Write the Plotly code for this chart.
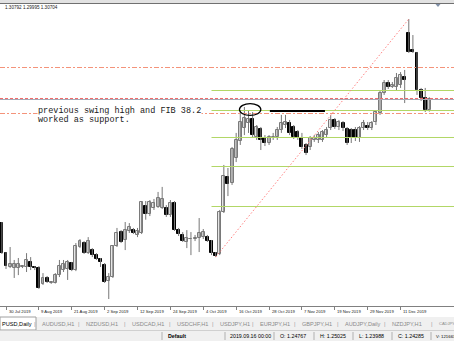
import plotly.graph_objects as go

# ---------------- data (GBPUSD daily) ----------------
tick_idx = [1, 9, 17, 25, 33, 41, 49, 57, 65, 73, 81, 89, 97]
tick_text = ["30 Jul 2019", "9 Aug 2019", "21 Aug 2019", "2 Sep 2019", "12 Sep 2019",
             "24 Sep 2019", "4 Oct 2019", "16 Oct 2019", "28 Oct 2019", "7 Nov 2019",
             "19 Nov 2019", "29 Nov 2019", "11 Dec 2019"]

opens = [1.2380, 1.2213, 1.2136, 1.2130, 1.2130, 1.2136, 1.2136, 1.2164, 1.2136, 1.2130,
         1.2042, 1.2075, 1.2047, 1.2047, 1.2091, 1.2119, 1.2125, 1.2158, 1.2119, 1.2247,
         1.2269, 1.2213, 1.2230, 1.2202, 1.2180, 1.2147, 1.2058, 1.2080, 1.2252, 1.2330,
         1.2286, 1.2336, 1.2341, 1.2314, 1.2325, 1.24767, 1.2430, 1.2464, 1.2469, 1.2464,
         1.2464, 1.2425, 1.2492, 1.2341, 1.2314, 1.2275, 1.2291, 1.2291, 1.2297, 1.2302,
         1.2302, 1.2280, 1.2213, 1.2208, 1.2441, 1.2636, 1.2603, 1.2742, 1.2836, 1.2908,
         1.2936, 1.2958, 1.2858, 1.2903, 1.2853, 1.2825, 1.2858, 1.2858, 1.2897, 1.2925,
         1.2936, 1.2914, 1.2886, 1.2853, 1.2814, 1.2803, 1.2842, 1.2842, 1.2842, 1.2869,
         1.2908, 1.2953, 1.2914, 1.2936, 1.2903, 1.2897, 1.2897, 1.2853, 1.2908, 1.2919,
         1.2908, 1.2942, 1.2992, 1.3103, 1.3158, 1.3136, 1.3136, 1.3147, 1.3192, 1.3436,
         1.3342, 1.3325, 1.3119, 1.3075, 1.3008]
highs = [1.2386, 1.2219, 1.2247, 1.2175, 1.2186, 1.2147, 1.2213, 1.2191, 1.2141, 1.2141,
         1.2102, 1.2086, 1.2058, 1.2102, 1.2175, 1.2175, 1.2175, 1.2164, 1.2269, 1.2291,
         1.2280, 1.2302, 1.2241, 1.2213, 1.2186, 1.2158, 1.2102, 1.2258, 1.2353, 1.2341,
         1.2386, 1.2380, 1.2353, 1.2353, 1.2502, 1.25025, 1.2508, 1.2514, 1.2553, 1.2581,
         1.2480, 1.2508, 1.2502, 1.2353, 1.2330, 1.2341, 1.2330, 1.2314, 1.2408, 1.2347,
         1.2314, 1.2286, 1.2219, 1.2453, 1.2703, 1.2686, 1.2803, 1.2881, 1.3008, 1.3025,
         1.3008, 1.2997, 1.2925, 1.2914, 1.2869, 1.2869, 1.2881, 1.2914, 1.2981, 1.2981,
         1.2953, 1.2925, 1.2897, 1.2881, 1.2825, 1.2864, 1.2869, 1.2886, 1.2897, 1.2914,
         1.2981, 1.2964, 1.2953, 1.2947, 1.2914, 1.2908, 1.2914, 1.2919, 1.2953, 1.2942,
         1.2947, 1.3008, 1.3119, 1.3175, 1.3175, 1.3164, 1.3214, 1.3219, 1.3231, 1.3514,
         1.3425, 1.3331, 1.3131, 1.3131, 1.30792]
lows = [1.2208, 1.2125, 1.2130, 1.2075, 1.2091, 1.2130, 1.2108, 1.2119, 1.2119, 1.2014,
        1.2036, 1.2047, 1.2042, 1.2044, 1.2080, 1.2108, 1.2064, 1.2113, 1.2113, 1.2241,
        1.2208, 1.2208, 1.2191, 1.2175, 1.2136, 1.2047, 1.1958, 1.2075, 1.2247, 1.2269,
        1.2230, 1.2325, 1.2319, 1.2302, 1.2319, 1.23988, 1.2419, 1.2453, 1.2464, 1.2458,
        1.2414, 1.2414, 1.2336, 1.2308, 1.2275, 1.2241, 1.2202, 1.2280, 1.2219, 1.2291,
        1.2275, 1.2202, 1.2191, 1.2202, 1.2436, 1.2530, 1.2592, 1.2719, 1.2814, 1.2869,
        1.2881, 1.2858, 1.2842, 1.2786, 1.2808, 1.2814, 1.2842, 1.2842, 1.2881, 1.2908,
        1.2869, 1.2847, 1.2842, 1.2792, 1.2758, 1.2786, 1.2831, 1.2825, 1.2831, 1.2853,
        1.2897, 1.2903, 1.2897, 1.2892, 1.2814, 1.2825, 1.2836, 1.2831, 1.2897, 1.2897,
        1.2897, 1.2925, 1.2981, 1.3092, 1.3125, 1.3131, 1.3119, 1.3131, 1.3047, 1.3325,
        1.3325, 1.3092, 1.3058, 1.2997, 1.29995]
closes = [1.2213, 1.2141, 1.2153, 1.2153, 1.2153, 1.2139, 1.2175, 1.2136, 1.2130, 1.2019,
          1.2075, 1.2053, 1.2050, 1.2091, 1.2141, 1.2153, 1.2164, 1.2119, 1.2252, 1.2280,
          1.2213, 1.2280, 1.2202, 1.2180, 1.2164, 1.2053, 1.2080, 1.2252, 1.2325, 1.2275,
          1.2341, 1.2358, 1.2325, 1.2336, 1.2497, 1.24285, 1.2497, 1.2492, 1.2519, 1.2514,
          1.2425, 1.2492, 1.2341, 1.2319, 1.2280, 1.2297, 1.2294, 1.2297, 1.2325, 1.2330,
          1.2280, 1.2213, 1.2197, 1.2441, 1.2642, 1.2597, 1.2792, 1.2842, 1.2942, 1.2964,
          1.2958, 1.2869, 1.2914, 1.2842, 1.2825, 1.2858, 1.2861, 1.2897, 1.2936, 1.2942,
          1.2881, 1.2858, 1.2853, 1.2803, 1.2769, 1.2853, 1.2853, 1.2869, 1.2886, 1.2897,
          1.2953, 1.2914, 1.2942, 1.2908, 1.2825, 1.2853, 1.2853, 1.2908, 1.2936, 1.2908,
          1.2936, 1.2997, 1.3103, 1.3158, 1.3136, 1.3147, 1.3186, 1.3203, 1.3175, 1.3331,
          1.3331, 1.3119, 1.3075, 1.3008, 1.30704]

# horizontal levels (price)
fib_levels = [1.31167, 1.30056, 1.28556, 1.26944, 1.24721]    # green
dashdot_levels = [1.32445, 1.29889]                           # salmon dash-dot
red_dash_level = 1.30723
grey_level = 1.30667
fib_start_bar = 51
trend_start = (52, 1.2191)
trend_end = (99, 1.3514)
swing_line = (65.2, 78.6, 1.30028)
ellipse_box = (57.8, 63.0, 1.2978, 1.3044)

tabs = ["PUSD,Daily", "AUDUSD,H1", "NZDUSD,H1", "USDCAD,H1", "USDCHF,H1", "USDJPY,H1",
        "EURJPY,H1", "GBPJPY,H1", "AUDJPY,Daily", "NZDJPY,H1", "CADJPY"]
status = ["Default", "2019.09.16 00:00", "O: 1.24767", "H: 1.25025", "L: 1.23988",
          "C: 1.24285", "V: 121663"]

# ---------------- figure ----------------
W, H = 454, 341
T, B = 4, 35
PLOT_H = H - T - B


def PX(x):
    return x / W


def PY(y):
    return (H - B - y) / PLOT_H


n = len(opens)
idx = list(range(n))

wx, wy = [], []
for i in idx:
    wx += [i, i, None]
    wy += [lows[i], highs[i], None]

up = [c >= o for o, c in zip(opens, closes)]
base = [min(o, c) for o, c in zip(opens, closes)]
size = [max(abs(c - o), 0.00012) for o, c in zip(opens, closes)]

fig = go.Figure()
fig.add_trace(go.Scatter(x=wx, y=wy, mode="lines", line=dict(color="#777777", width=1),
                         hoverinfo="skip", showlegend=False))
fig.add_trace(go.Bar(x=idx, y=size, base=base, width=0.72,
                     marker=dict(color=["#e6e6e6" if u else "#000000" for u in up],
                                 line=dict(color=["#7a7a7a" if u else "#000000" for u in up], width=1)),
                     hoverinfo="skip", showlegend=False))

shapes = []
GREEN = "#b2d766"
for lv in fib_levels:
    shapes.append(dict(type="line", xref="x", yref="y", x0=fib_start_bar, x1=130, y0=lv, y1=lv,
                       line=dict(color=GREEN, width=1)))
for lv in dashdot_levels:
    shapes.append(dict(type="line", xref="paper", yref="y", x0=0, x1=1, y0=lv, y1=lv,
                       line=dict(color="#f4937a", width=1, dash="5px,2px,2px,2px")))
shapes.append(dict(type="line", xref="paper", yref="y", x0=0, x1=1, y0=grey_level, y1=grey_level,
                   line=dict(color="#a6a9b6", width=1)))
shapes.append(dict(type="line", xref="paper", yref="y", x0=0, x1=1, y0=red_dash_level, y1=red_dash_level,
                   line=dict(color="#f06a6a", width=1, dash="3px,2px")))
shapes.append(dict(type="line", xref="x", yref="y", x0=trend_start[0], y0=trend_start[1],
                   x1=trend_end[0], y1=trend_end[1],
                   line=dict(color="#ff8080", width=1, dash="1.5px,2px")))
shapes.append(dict(type="line", xref="x", yref="y", x0=swing_line[0], x1=swing_line[1],
                   y0=swing_line[2], y1=swing_line[2], line=dict(color="#000000", width=2)))
shapes.append(dict(type="circle", xref="x", yref="y", x0=ellipse_box[0], x1=ellipse_box[1],
                   y0=ellipse_box[2], y1=ellipse_box[3], line=dict(color="#000000", width=1.3)))

# ---- window chrome ----
shapes.append(dict(type="rect", xref="paper", yref="paper", x0=0, x1=1, y0=PY(0), y1=PY(3.2),
                   fillcolor="#e2e2e2", line=dict(width=0), layer="above"))
shapes.append(dict(type="line", xref="paper", yref="paper", x0=0, x1=1, y0=PY(3.5), y1=PY(3.5),
                   line=dict(color="#707070", width=1)))
shapes.append(dict(type="path", xref="paper", yref="paper",
                   path=f"M {PX(435.5)} {PY(4)} L {PX(440.5)} {PY(4)} L {PX(438)} {PY(7)} Z",
                   fillcolor="#8090a8", line=dict(width=0)))
# tab row
shapes.append(dict(type="rect", xref="paper", yref="paper", x0=0, x1=1, y0=PY(330), y1=PY(317),
                   fillcolor="#f0f0f0", line=dict(width=0)))
shapes.append(dict(type="rect", xref="paper", yref="paper", x0=0, x1=PX(36), y0=PY(330), y1=PY(317),
                   fillcolor="#ffffff", line=dict(color="#a0a0a0", width=1)))
# status bar
shapes.append(dict(type="rect", xref="paper", yref="paper", x0=0, x1=1, y0=PY(341), y1=PY(330.5),
                   fillcolor="#f0f0f0", line=dict(width=0)))
shapes.append(dict(type="line", xref="paper", yref="paper", x0=0, x1=1, y0=PY(330.5), y1=PY(330.5),
                   line=dict(color="#d0d0d0", width=1)))
for sx in [162, 225, 274, 314, 353, 392, 431]:
    shapes.append(dict(type="line", xref="paper", yref="paper", x0=PX(sx), x1=PX(sx),
                       y0=PY(340), y1=PY(332), line=dict(color="#b0b0b0", width=1)))

ann = []
ann.append(dict(text="previous swing high and FIB 38.2", x=8.5, y=1.3003, xref="x", yref="y",
                xanchor="left", yanchor="middle", showarrow=False, bgcolor="#ffffff", borderpad=0,
                font=dict(family="Liberation Mono", size=8.5, color="#1a1a1a")))
ann.append(dict(text="worked as support.", x=8.5, y=1.2953, xref="x", yref="y",
                xanchor="left", yanchor="middle", showarrow=False, bgcolor="#ffffff", borderpad=0,
                font=dict(family="Liberation Mono", size=8.5, color="#1a1a1a")))
ann.append(dict(text="1.30792 1.29995 1.30704", x=PX(2.5), y=PY(8), xref="paper", yref="paper",
                xanchor="left", yanchor="middle", showarrow=False,
                font=dict(family="Liberation Sans", size=4.6, color="#202020")))
for ti, tt in zip(tick_idx, tick_text):
    ann.append(dict(text=tt, x=ti, y=PY(311.5), xref="x", yref="paper", xanchor="left",
                    yanchor="middle", xshift=0.5, showarrow=False,
                    font=dict(family="Liberation Sans", size=4.2, color="#202020")))
tab_x = [0, 40, 84, 130, 175, 218, 258, 300, 343, 390, 437]
for k, (tx, tt) in enumerate(zip(tab_x, tabs)):
    last = k == len(tabs) - 1
    ann.append(dict(text=tt, x=PX(tx), y=PY(323.5), xref="paper", yref="paper", xanchor="left",
                    yanchor="middle", showarrow=False,
                    font=dict(family="Liberation Sans", size=4.0 if last else 5.6,
                              color="#000000" if k == 0 else "#8a8a8a")))
    if k > 0:
        ann.append(dict(text="|", x=PX(tx - 5), y=PY(323.5), xref="paper", yref="paper", xanchor="center",
                        yanchor="middle", showarrow=False,
                        font=dict(family="Liberation Sans", size=6, color="#a0a0a0")))
stat_x = [166, 228, 278, 318, 357, 396, 434]
for k, (sx, st) in enumerate(zip(stat_x, status)):
    last = k == len(status) - 1
    ann.append(dict(text=("<b>" + st + "</b>") if k == 0 else st, x=PX(sx), y=PY(336), xref="paper",
                    yref="paper", xanchor="left", yanchor="middle", showarrow=False,
                    font=dict(family="Liberation Sans", size=4.3 if last else 5.3, color="#000000")))

fig.update_layout(
    width=W, height=H, margin=dict(l=0, r=0, t=T, b=B),
    paper_bgcolor="#ffffff", plot_bgcolor="#ffffff",
    showlegend=False, bargap=0, hovermode=False,
    shapes=shapes, annotations=ann,
    xaxis=dict(range=[-0.46, 110.0], showgrid=False, zeroline=False, showline=True,
               linecolor="#808080", linewidth=1, ticks="outside", ticklen=2.5, tickcolor="#808080",
               tickvals=tick_idx, showticklabels=False, fixedrange=True),
    yaxis=dict(range=[1.19192, 1.35974], visible=False, fixedrange=True),
)

fig.write_html("out.html", config={"displayModeBar": False})
